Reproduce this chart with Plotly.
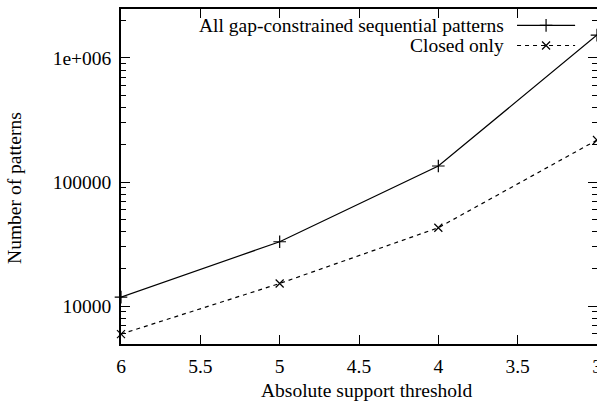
import plotly.graph_objects as go

# Absolute support threshold (x) and pattern counts (log y)
support = [6, 5, 4, 3]
all_patterns = [11800, 33000, 134600, 1530000]
closed_patterns = [5940, 15200, 42800, 218000]

series_names = ["All gap-constrained sequential patterns", "Closed only"]
x_ticks = [6, 5.5, 5, 4.5, 4, 3.5, 3]
x_tick_text = ["6", "5.5", "5", "4.5", "4", "3.5", "3"]
y_ticks = [10000, 100000, 1000000]
y_tick_text = ["10000", "100000", "1e+006"]
y_minor = [m * 10 ** e for e in range(3, 7) for m in range(2, 10)]

FONT = "Liberation Serif, Times New Roman, serif"
FS = 19.5
font = dict(family=FONT, size=FS, color="black")

fig = go.Figure()

fig.add_trace(go.Scatter(
    x=support, y=all_patterns, mode="lines+markers", name=series_names[0],
    line=dict(color="black", width=1.2),
    marker=dict(symbol="cross-thin", size=9, line=dict(color="black", width=1.2)),
    showlegend=False, cliponaxis=False,
))
fig.add_trace(go.Scatter(
    x=support, y=closed_patterns, mode="lines+markers", name=series_names[1],
    line=dict(color="black", width=1.2, dash="4px,4px"),
    marker=dict(symbol="x-thin", size=8, line=dict(color="black", width=1.2)),
    showlegend=False, cliponaxis=False,
))

# Key: text on the left, sample line with marker on the right
key_rows = [0.951, 0.891]
key_x = [0.832, 0.954]
key_mid = 0.893
key_styles = [
    (dict(color="black", width=1.2), "cross-thin", 9),
    (dict(color="black", width=1.2, dash="4px,4px"), "x-thin", 8),
]
for name, ky, (ln, sym, sz) in zip(series_names, key_rows, key_styles):
    fig.add_trace(go.Scatter(
        x=key_x, y=[ky, ky], mode="lines", line=ln,
        xaxis="x2", yaxis="y2", showlegend=False, hoverinfo="skip",
    ))
    fig.add_trace(go.Scatter(
        x=[key_mid], y=[ky], mode="markers",
        marker=dict(symbol=sym, size=sz, color="black", line=dict(color="black", width=1.2)),
        xaxis="x2", yaxis="y2", showlegend=False, hoverinfo="skip",
    ))
    fig.add_annotation(
        x=0.807, y=ky, xref="paper", yref="paper", text=name,
        showarrow=False, xanchor="right", yanchor="middle", font=font,
        borderpad=0,
    )

# Axis titles
fig.add_annotation(
    x=0.5167, y=-0.140, xref="paper", yref="paper", text="Absolute support threshold",
    showarrow=False, xanchor="center", yanchor="middle", font=font,
)
fig.add_annotation(
    x=-0.2227, y=0.466, xref="paper", yref="paper", text="Number of patterns",
    showarrow=False, xanchor="center", yanchor="middle", textangle=-90, font=font,
)

axis_common = dict(
    showgrid=False, zeroline=False, showline=True, linecolor="black", linewidth=1.5,
    mirror="ticks", ticks="inside", tickcolor="black", tickwidth=1, ticklen=9,
    tickfont=font, automargin=False, ticklabeloverflow="allow",
)

fig.update_layout(
    width=597, height=403,
    margin=dict(l=121, r=0, t=9, b=59),
    paper_bgcolor="white", plot_bgcolor="white",
    xaxis=dict(
        range=[6, 3], tickvals=x_ticks, ticktext=x_tick_text, ticklabelstandoff=4,
        **axis_common,
    ),
    yaxis=dict(
        type="log", range=[3.694, 6.395], tickvals=y_ticks, ticktext=y_tick_text,
        minor=dict(tickvals=y_minor, ticks="inside", ticklen=5, tickcolor="black", tickwidth=1),
        ticklabelstandoff=4,
        **axis_common,
    ),
    xaxis2=dict(overlaying="x", range=[0, 1], visible=False),
    yaxis2=dict(overlaying="y", range=[0, 1], visible=False),
)

fig.write_html("out.html")
